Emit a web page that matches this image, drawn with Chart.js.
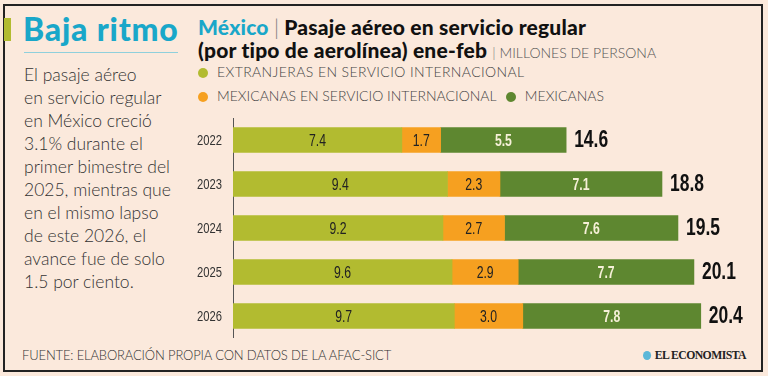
<!DOCTYPE html>
<html lang="es">
<head>
<meta charset="UTF-8">
<title>Baja ritmo</title>
<script src="https://cdn.jsdelivr.net/npm/chart.js"></script>
<style>
    body { margin: 0; background: #fbe9dc; width: 768px; height: 376px; overflow: hidden; font-family: Lato, "Open Sans", sans-serif; }
    #frame { position: absolute; left: 3px; top: 4px; width: 756px; height: 364px; border: 2px solid #222; }
    #tag { position: absolute; left: 4px; top: 18px; width: 7px; height: 23px; background: #b2bb30; }
    #head { position: absolute; left: 23px; top: 14px; font-size: 32px; line-height: 30px; font-weight: 900; color: #19a7c9; letter-spacing: 0.8px; }
    #rule { position: absolute; left: 24px; top: 52px; width: 154px; height: 1px; background: #8fd0dc; }
    #text { position: absolute; left: 24px; top: 63px; font-size: 17.5px; line-height: 23px; font-weight: 300; color: #333; }
    #title { position: absolute; left: 198px; top: 15px; font-size: 21px; line-height: 23px; font-weight: 900; color: #111; white-space: nowrap; letter-spacing: 0.2px; }
    #title .mx { color: #19a7c9; }
    #title .sep { font-weight: 300; color: #777; }
    #title .unit { font-size: 14px; font-weight: 300; color: #555; letter-spacing: 0; }
    .leg { position: absolute; left: 196px; font-size: 14px; line-height: 16px; font-weight: 300; color: #444; white-space: nowrap; letter-spacing: 0.4px; }
    #leg2 { letter-spacing: 0; }
    .leg span { display: inline-block; width: 10px; height: 10px; border-radius: 50%; margin: 0 9px 0 2px; vertical-align: -1px; }
    #box { position: absolute; left: 190px; top: 118px; width: 570px; height: 220px; }
    #foot { position: absolute; left: 22px; top: 347px; font-size: 13px; line-height: 16px; font-weight: 300; color: #333; letter-spacing: -0.15px; }
    #logo { position: absolute; left: 643px; top: 347px; font-family: "Liberation Serif", serif; font-weight: bold; font-size: 13px; line-height: 16px; color: #222; letter-spacing: -0.6px; transform: scaleX(0.9); transform-origin: left center; }
    #logo i { display: inline-block; width: 9px; height: 9px; border-radius: 50%; background: #5bb7d8; margin-right: 4px; vertical-align: -1px; }
</style>
</head>

<body>
    <div id="frame"></div>
    <div id="tag"></div>
    <div id="head">Baja ritmo</div>
    <div id="rule"></div>
    <div id="text">El pasaje aéreo<br>en servicio regular<br>en México creció<br>3.1% durante el<br>primer bimestre del<br>2025, mientras que<br>en el mismo lapso<br>de este 2026, el<br>avance fue de solo<br>1.5 por ciento.</div>

    <div id="title"><span class="mx">México</span> <span class="sep">|</span> Pasaje aéreo en servicio regular<br>(por tipo de aerolínea) ene-feb <span class="unit"><span class="sep">|</span> MILLONES DE PERSONA</span></div>
    <div class="leg" id="leg1" style="top:64px"></div>
    <div class="leg" id="leg2" style="top:88px"></div>

    <div id="box"><canvas id="chart"></canvas></div>

    <div id="foot">FUENTE: ELABORACIÓN PROPIA CON DATOS DE LA AFAC-SICT</div>
    <div id="logo"><i></i>EL ECONOMISTA</div>

<script>
    const years = ['2022', '2023', '2024', '2025', '2026']
    const seriesNames = ['EXTRANJERAS EN SERVICIO INTERNACIONAL', 'MEXICANAS EN SERVICIO INTERNACIONAL', 'MEXICANAS']
    const extranjeras = [7.4, 9.4, 9.2, 9.6, 9.7]
    const mexicanasIntl = [1.7, 2.3, 2.7, 2.9, 3.0]
    const mexicanas = [5.5, 7.1, 7.6, 7.7, 7.8]
    const totals = [14.6, 18.8, 19.5, 20.1, 20.4]

    const colors = ['#b2bb30', '#f6a020', '#5e8730']
    const labelColors = ['#222', '#222', '#f6f0d8']
    const numFont = '"Liberation Sans", Arial, sans-serif'

    // legend, built from the series names
    const dot = i => '<span style="background:' + colors[i] + '"></span>'
    document.getElementById('leg1').innerHTML = dot(0) + seriesNames[0]
    document.getElementById('leg2').innerHTML = dot(1) + seriesNames[1] + '&nbsp;&nbsp;' + dot(2) + seriesNames[2]

    // no condensed font installed, so squeeze the text horizontally
    function squeezed(ctx, text, x, y, sx) {
        ctx.save()
        ctx.translate(x, y)
        ctx.scale(sx, 1)
        ctx.fillText(text, 0, 0)
        ctx.restore()
    }

    const segLabels = {
        id: 'segLabels',
        afterDatasetsDraw(chart) {
            const ctx = chart.ctx
            const yScale = chart.scales.y
            ctx.save()
            ctx.textBaseline = 'middle'

            // year labels on the category axis
            ctx.textAlign = 'right'
            ctx.fillStyle = '#333'
            ctx.font = '15px ' + numFont
            years.forEach((yr, i) => squeezed(ctx, yr, yScale.right - 11, yScale.getPixelForValue(i) + 1, 0.75))

            ctx.textAlign = 'center'
            chart.data.datasets.forEach((ds, di) => {
                ctx.fillStyle = labelColors[di]
                ctx.font = (di === 2 ? 'bold ' : '') + '17px ' + numFont
                chart.getDatasetMeta(di).data.forEach((bar, i) => {
                    squeezed(ctx, ds.data[i].toFixed(1), (bar.x + bar.base) / 2, bar.y + 1, 0.72)
                })
            })
            ctx.textAlign = 'left'
            ctx.fillStyle = '#111'
            ctx.font = 'bold 23px ' + numFont
            chart.getDatasetMeta(2).data.forEach((bar, i) => {
                squeezed(ctx, totals[i].toFixed(1), bar.x + 8, bar.y + 1, 0.76)
            })
            ctx.restore()
        }
    }

    const values = [extranjeras, mexicanasIntl, mexicanas]

    window.chart = new Chart(document.getElementById('chart'), {
        type: 'bar',
        data: {
            labels: years,
            datasets: values.map((v, i) => ({
                label: seriesNames[i],
                data: v,
                backgroundColor: colors[i],
                borderWidth: 0,
                barThickness: 25
            }))
        },
        options: {
            indexAxis: 'y',
            responsive: true,
            maintainAspectRatio: false,
            animation: false,
            layout: { padding: { right: 25 } },
            plugins: { legend: { display: false }, tooltip: { enabled: false } },
            scales: {
                x: { stacked: true, display: false, min: 0, max: 22 },
                y: {
                    stacked: true,
                    afterFit: s => { s.width = 43 },
                    grid: { display: false, drawTicks: false },
                    border: { display: true, color: '#555', width: 1 },
                    ticks: { display: false }
                }
            }
        },
        plugins: [segLabels]
    })
</script>
</body>
</html>
